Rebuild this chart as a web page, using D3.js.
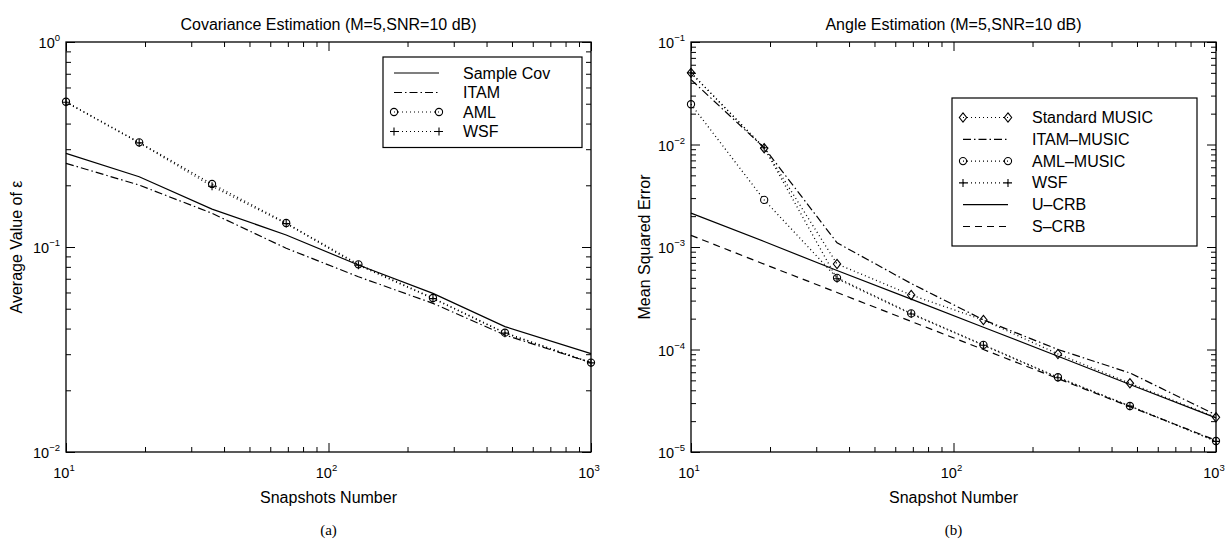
<!DOCTYPE html>
<html>
<head>
<meta charset="utf-8">
<script src="https://cdn.jsdelivr.net/npm/d3@7"></script>
<style>
body { margin: 0; background: #fff; }
svg text { font-family: "Liberation Sans", Arial, Helvetica, sans-serif; fill: #000; }
.caption { font-family: "Liberation Serif", "Times New Roman", serif; }
</style>
</head>
<body>
<div id="chart"></div>
<script>
// snapshot counts (x values, shared by both panels)
const snapshots = [10, 19, 36, 69, 130, 250, 470, 1000];

// (a) covariance estimation, average value of epsilon
const covSample = [0.286, 0.220, 0.153, 0.1145, 0.0817, 0.0594, 0.0409, 0.0302];
const covItam   = [0.256, 0.2005, 0.146, 0.0986, 0.0716, 0.0531, 0.0372, 0.0273];
const covAml    = [0.511, 0.324, 0.203, 0.131, 0.0823, 0.0564, 0.0382, 0.0273];
const covWsf    = [0.508, 0.322, 0.198, 0.130, 0.0815, 0.0560, 0.0380, 0.0272];

// (b) angle estimation, mean squared error
const musicStd  = [0.050, 0.0092, 6.83e-4, 3.40e-4, 1.94e-4, 9.04e-5, 4.68e-5, 2.18e-5];
const musicItam = [0.043, 0.0093, 1.10e-3, 4.40e-4, 1.95e-4, 1.00e-4, 5.90e-5, 2.30e-5];
const musicAml  = [0.0247, 0.00288, 5.0e-4, 2.25e-4, 1.11e-4, 5.36e-5, 2.81e-5, 1.28e-5];
const wsfAngle  = [0.050, 0.0093, 4.9e-4, 2.22e-4, 1.10e-4, 5.30e-5, 2.80e-5, 1.27e-5];
const uCrb      = [2.14e-3, 1.13e-3, 5.9e-4, 3.1e-4, 1.65e-4, 8.6e-5, 4.55e-5, 2.15e-5];
const sCrb      = [1.30e-3, 6.8e-4, 3.6e-4, 1.88e-4, 1.0e-4, 5.2e-5, 2.77e-5, 1.30e-5];

const legendA = ["Sample Cov", "ITAM", "AML", "WSF"];
const legendB = ["Standard MUSIC", "ITAM\u2013MUSIC", "AML\u2013MUSIC", "WSF", "U\u2013CRB", "S\u2013CRB"];

const width = 1227, height = 542;
const svg = d3.select("#chart").append("svg")
    .attr("width", width)
    .attr("height", height);

const SOLID = null, DOTTED = "1,3", DASHDOT = "8,3,1.5,3", DASHED = "7,5";

function drawMarker(g, type, cx, cy) {
    if (type === "o") {
        g.append("circle").attr("cx", cx).attr("cy", cy).attr("r", 3.6)
            .attr("fill", "none").attr("stroke", "#000").attr("stroke-width", 1.1);
    } else if (type === "d") {
        const s = 4.6;
        g.append("path")
            .attr("d", `M${cx},${cy - s}L${cx + s * 0.8},${cy}L${cx},${cy + s}L${cx - s * 0.8},${cy}Z`)
            .attr("fill", "none").attr("stroke", "#000").attr("stroke-width", 1.1);
    } else if (type === "+") {
        const s = 4;
        g.append("path")
            .attr("d", `M${cx - s},${cy}H${cx + s}M${cx},${cy - s}V${cy + s}`)
            .attr("stroke", "#000").attr("stroke-width", 1.1);
    }
}

function expLabel(sel, exp) {
    sel.append("tspan").text("10");
    sel.append("tspan").attr("font-size", 9.5).attr("dy", -7).text(exp < 0 ? "\u2212" + (-exp) : exp);
}

function drawPanel(p) {
    const x = d3.scaleLog().domain([10, 1000]).range([p.left, p.left + 525]);
    const y = d3.scaleLog().domain(p.ydomain).range([452, 42]);
    const g = svg.append("g");

    const majorsX = [10, 100, 1000];
    const minorsX = x.ticks().filter(v => majorsX.indexOf(v) < 0);
    const majorsY = [];
    for (let e = Math.round(Math.log10(p.ydomain[0])); e <= Math.round(Math.log10(p.ydomain[1])); e++) majorsY.push(Math.pow(10, e));
    const minorsY = y.ticks().filter(v => !majorsY.some(m => Math.abs(m - v) / m < 1e-6));

    const axes = [
        [d3.axisBottom(x), `translate(0,452)`, majorsX, minorsX],
        [d3.axisTop(x), `translate(0,42)`, majorsX, minorsX],
        [d3.axisLeft(y), `translate(${p.left},0)`, majorsY, minorsY],
        [d3.axisRight(y), `translate(${p.left + 525},0)`, majorsY, minorsY]
    ];
    axes.forEach(([ax, tr, maj, min]) => {
        [[maj, 9], [min, 5]].forEach(([vals, len]) => {
            const a = g.append("g").attr("transform", tr)
                .call(ax.tickValues(vals).tickSize(-len).tickFormat(""));
            a.select(".domain").remove();
            a.selectAll(".tick line").attr("stroke", "#000").attr("stroke-width", 1);
        });
    });

    g.append("rect")
        .attr("x", p.left).attr("y", 42).attr("width", 525).attr("height", 410)
        .attr("fill", "none").attr("stroke", "#000").attr("stroke-width", 1.3);

    majorsX.forEach(v => {
        g.append("text").attr("x", x(v) - 2).attr("y", 478).attr("text-anchor", "middle")
            .attr("font-size", 14.5).call(expLabel, Math.round(Math.log10(v)));
    });
    majorsY.forEach(v => {
        g.append("text").attr("x", p.left - 6).attr("y", y(v) + 6).attr("text-anchor", "end")
            .attr("font-size", 14.5).call(expLabel, Math.round(Math.log10(v)));
    });

    const line = d3.line().x(d => x(d[0])).y(d => y(d[1]));
    p.series.forEach(s => {
        const pts = snapshots.map((n, i) => [n, s.values[i]]);
        g.append("path").datum(pts)
            .attr("d", line)
            .attr("fill", "none").attr("stroke", "#000")
            .attr("stroke-width", s.dash === DOTTED ? 1.3 : 1.2)
            .attr("stroke-dasharray", s.dash);
        if (s.marker) pts.forEach(d => drawMarker(g, s.marker, x(d[0]), y(d[1])));
    });

    // legend
    const lg = p.legend;
    const rows = p.series.length;
    g.append("rect")
        .attr("x", lg.x).attr("y", lg.y).attr("width", lg.w).attr("height", lg.pad * 2 + lg.row * (rows - 1))
        .attr("fill", "#fff").attr("stroke", "#000").attr("stroke-width", 1.2);
    p.series.forEach((s, i) => {
        const cy = lg.y + lg.pad + i * lg.row;
        const x0 = lg.x + 11, x1 = x0 + 45;
        g.append("line").attr("x1", x0).attr("x2", x1).attr("y1", cy).attr("y2", cy)
            .attr("stroke", "#000").attr("stroke-width", 1.2).attr("stroke-dasharray", s.dash);
        if (s.marker) { drawMarker(g, s.marker, x0, cy); drawMarker(g, s.marker, x1, cy); }
        g.append("text").attr("x", x1 + 24).attr("y", cy + 5.5).attr("font-size", 16).text(p.labels[i]);
    });

    const cx = p.left + 262.5;
    g.append("text").attr("x", cx).attr("y", 30).attr("text-anchor", "middle")
        .attr("font-size", 16).text(p.title);
    g.append("text").attr("x", cx).attr("y", 503).attr("text-anchor", "middle")
        .attr("font-size", 16).text(p.xlabel);
    g.append("text").attr("transform", `translate(${p.ylabelX},247) rotate(-90)`)
        .attr("text-anchor", "middle").attr("font-size", 16).text(p.ylabel);
    g.append("text").attr("class", "caption").attr("x", cx).attr("y", 535)
        .attr("text-anchor", "middle").attr("font-size", 15).text(p.caption);
}

drawPanel({
    left: 66,
    ydomain: [1e-2, 1],
    title: "Covariance Estimation (M=5,SNR=10 dB)",
    xlabel: "Snapshots Number",
    ylabel: "Average Value of \u03b5",
    ylabelX: 22,
    caption: "(a)",
    labels: legendA,
    legend: { x: 383, y: 57, w: 199, pad: 16, row: 19.5 },
    series: [
        { values: covSample, dash: SOLID },
        { values: covItam, dash: DASHDOT },
        { values: covAml, dash: DOTTED, marker: "o" },
        { values: covWsf, dash: DOTTED, marker: "+" }
    ]
});

drawPanel({
    left: 691,
    ydomain: [1e-5, 1e-1],
    title: "Angle Estimation (M=5,SNR=10 dB)",
    xlabel: "Snapshot Number",
    ylabel: "Mean Squared Error",
    ylabelX: 650,
    caption: "(b)",
    labels: legendB,
    legend: { x: 952, y: 98, w: 245, pad: 19.5, row: 21.8 },
    series: [
        { values: musicStd, dash: DOTTED, marker: "d" },
        { values: musicItam, dash: DASHDOT },
        { values: musicAml, dash: DOTTED, marker: "o" },
        { values: wsfAngle, dash: DOTTED, marker: "+" },
        { values: uCrb, dash: SOLID },
        { values: sCrb, dash: DASHED }
    ]
});
</script>
</body>
</html>
